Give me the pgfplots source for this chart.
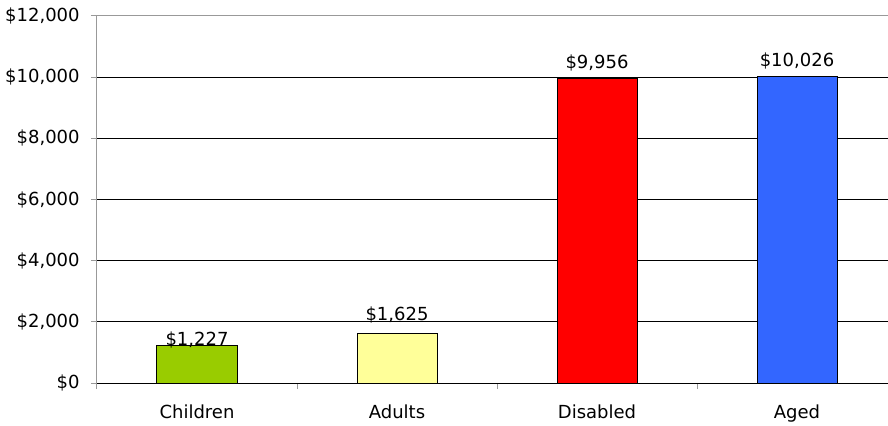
\documentclass[border=0pt]{standalone}
\usepackage{fontspec}
\setmainfont{DejaVu Sans}
\usepackage{pgfplots}
\pgfplotsset{compat=1.18}
\usetikzlibrary{calc}
\definecolor{cgreen}{HTML}{99CC00}
\definecolor{cyellow}{HTML}{FFFF99}
\definecolor{cred}{HTML}{FF0000}
\definecolor{cblue}{HTML}{3366FF}
\begin{document}
\begin{tikzpicture}
\begin{axis}[
  scale only axis, width=600pt, height=275.25pt,
  xmin=-0.5, xmax=3.5, ymin=0, ymax=12000,
  axis lines*=left,
  x axis line style={black, line width=0.75pt, -},
  y axis line style={gray!80, line width=0.75pt, -},
  ytick={0,2000,4000,6000,8000,10000},
  extra y ticks={12000},
  extra y tick style={grid style={gray!80, line width=0.75pt}},
  ymajorgrids, grid style={black, line width=0.6pt},
  scaled y ticks=false,
  yticklabel={\$\pgfmathprintnumber{\tick}},
  yticklabel style={xshift=-5pt},
  tick style={gray!80, line width=0.75pt},
  major tick length=4.5pt, tick align=outside,
  xtick={-0.5,0.5,1.5,2.5,3.5},
  x tick label as interval,
  xticklabels={Children,Adults,Disabled,Aged},
  xticklabel style={yshift=-8pt},
  tick label style={font=\fontsize{13.5}{15}\selectfont, black},
  /pgf/number format/1000 sep={,},
  /pgf/number format/assume math mode=true,
  ybar, bar width=60pt,
  nodes near coords={\$\pgfmathprintnumber{\pgfplotspointmeta}},
  every node near coord/.append style={font=\fontsize{13.5}{15}\selectfont, black},
]
\addplot[bar shift=0pt, fill=cgreen, draw=black, line width=0.75pt,
  every node near coord/.append style={yshift=-6pt}] coordinates {(0,1227)};
\addplot[bar shift=0pt, fill=cyellow, draw=black, line width=0.75pt,
  every node near coord/.append style={yshift=4pt}] coordinates {(1,1625)};
\addplot[bar shift=0pt, fill=cred, draw=black, line width=0.75pt,
  every node near coord/.append style={yshift=2pt}] coordinates {(2,9956)};
\addplot[bar shift=0pt, fill=cblue, draw=black, line width=0.75pt,
  every node near coord/.append style={yshift=2pt}] coordinates {(3,10026)};
\end{axis}
\pgfresetboundingbox
\path[use as bounding box] ($(current axis.south west)+(-72.75pt,-31.5pt)$) rectangle ($(current axis.south west)+(593.25pt,287.25pt)$);
\end{tikzpicture}
\end{document}
